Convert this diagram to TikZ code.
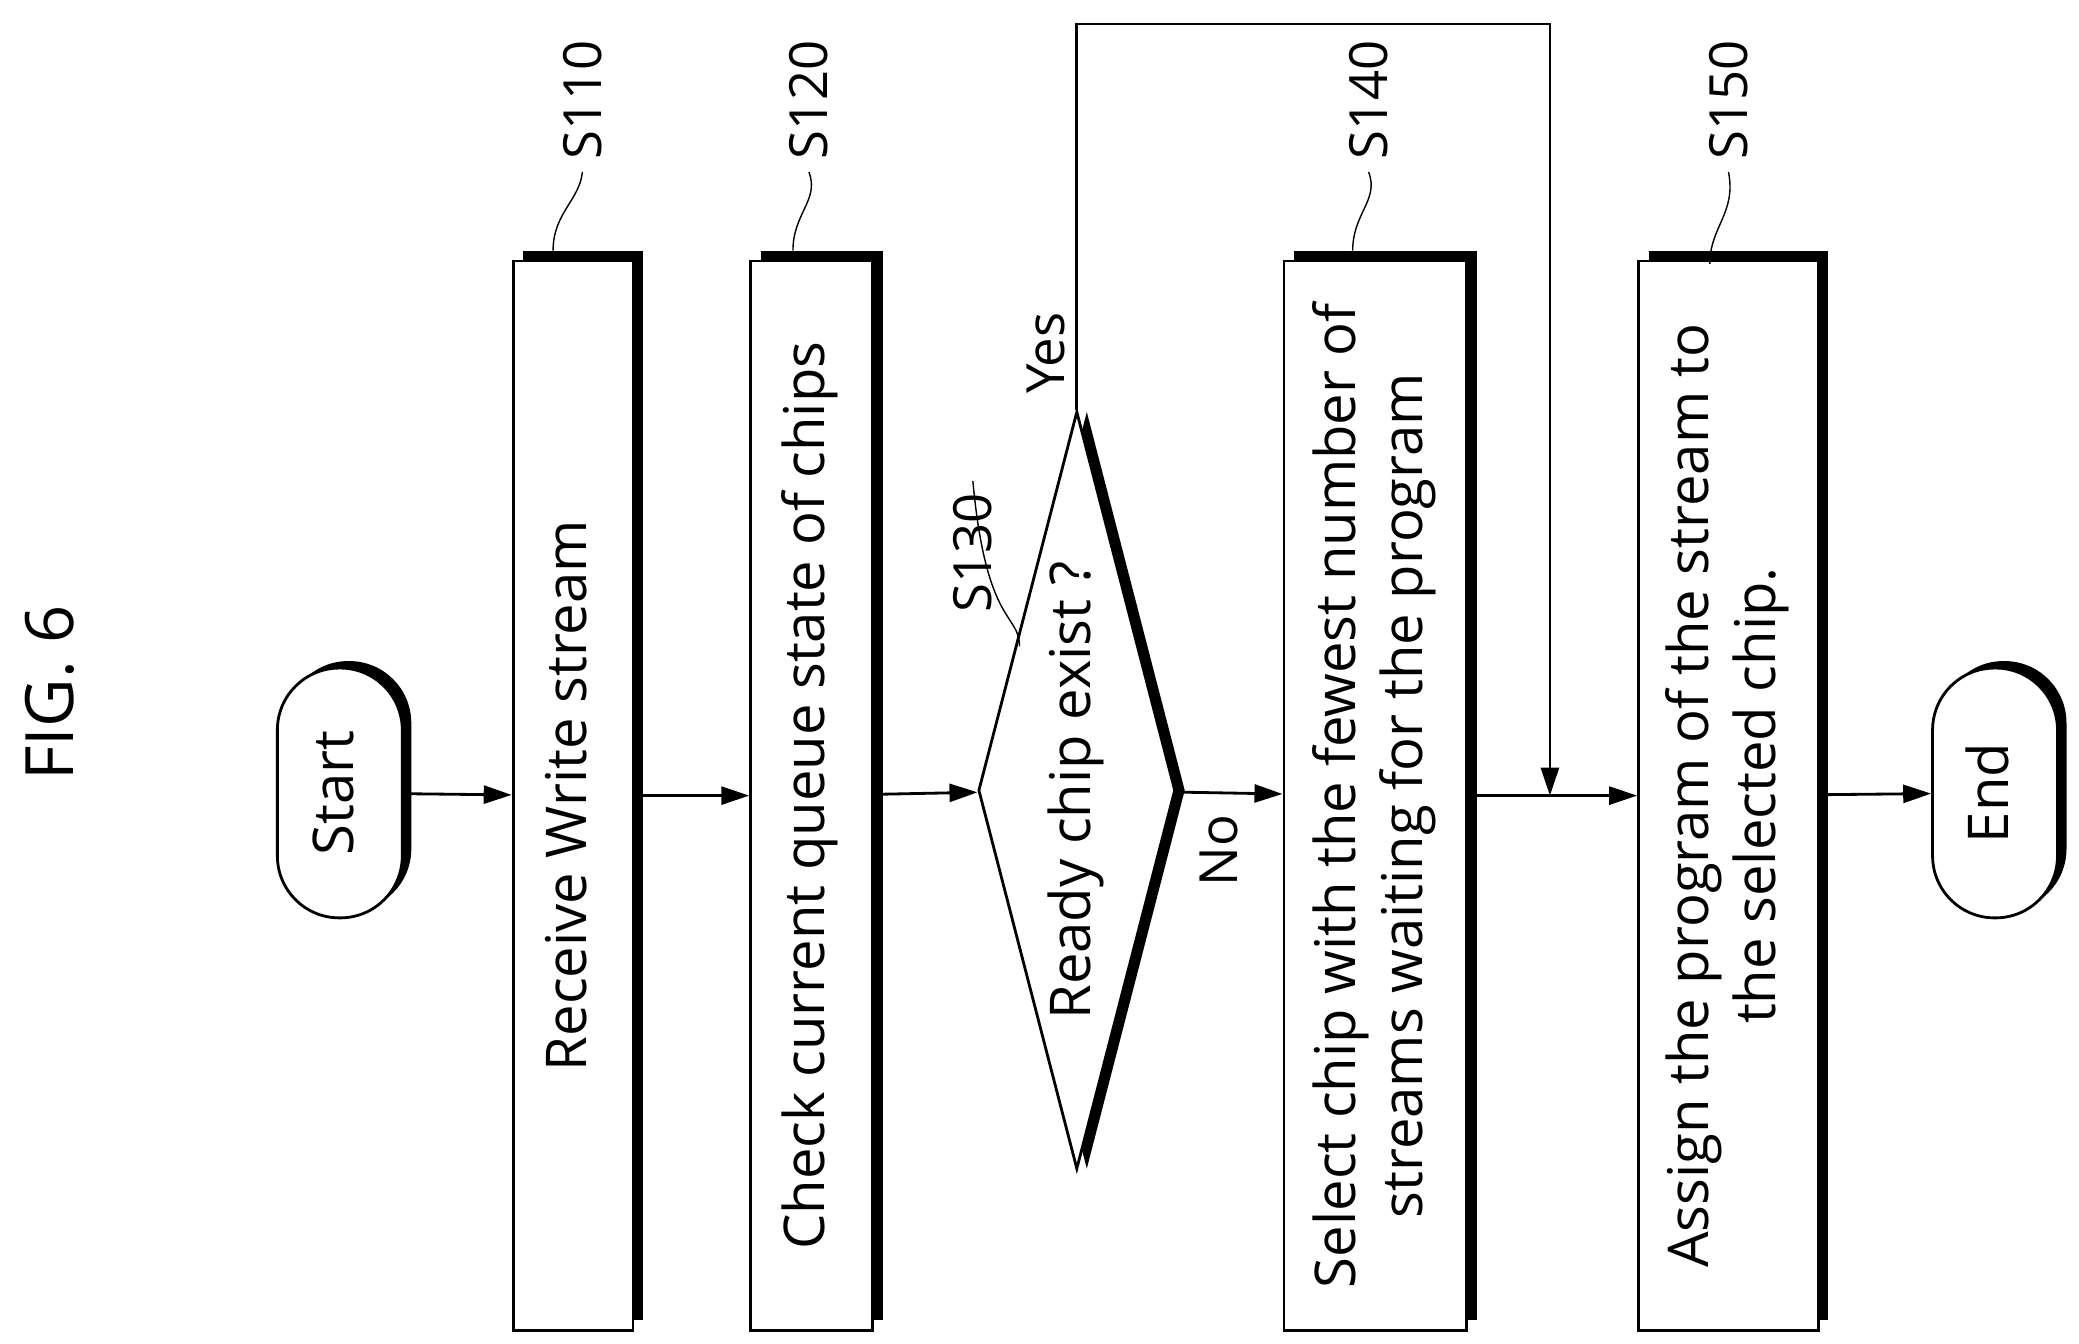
\documentclass[tikz,border=0pt]{standalone}
\usepackage{fontspec}
\setmainfont{Open Sans}
\usetikzlibrary{arrows.meta, shapes.geometric, shadows}
\tikzset{
	proc/.style={draw, fill=white, line width=0.8pt, minimum height=10.7cm, inner sep=0pt,
		drop shadow={shadow xshift=0.1cm, shadow yshift=0.1cm, fill=black, opacity=1}},
	term/.style={draw, fill=white, line width=0.8pt, rounded corners=0.62cm, minimum width=1.25cm, minimum height=2.5cm,
		drop shadow={shadow xshift=0.09cm, shadow yshift=0.07cm, fill=black, opacity=1}},
	flow/.style={-{Triangle[length=0.28cm, width=0.18cm]}, line width=0.8pt},
	lbl/.style={rotate=90, font=\fontsize{15}{17}\selectfont}
}
\newcommand{\vtext}[1]{\rotatebox{90}{\begin{tabular}{c}#1\end{tabular}}}
\begin{document}
\begin{tikzpicture}[x=0.01333cm, y=-0.01333cm, font=\fontsize{16}{19}\selectfont]
\useasboundingbox (0,0) rectangle (1560,1008);
\node[lbl, font=\fontsize{19}{21}\selectfont] (fig) at (37,520) {FIG. 6};
% steps
\node (start) [term] at (255,595) {\vtext{Start}};
\node (b110) [proc, minimum width=1.2cm] at (430,597) {\vtext{Receive Write stream}};
\node (b120) [proc, minimum width=1.22cm] at (609,597) {\vtext{Check current queue state of chips}};
\node (dec) [diamond, aspect=0.26, draw, fill=white, line width=0.8pt, inner sep=0pt, minimum width=1.84cm, minimum height=7.13cm,
	drop shadow={shadow xshift=0.1cm, shadow yshift=0cm, fill=black, opacity=1}] at (808,593) {\vtext{Ready chip exist ?}};
\node (b140) [proc, minimum width=1.83cm] at (1032,597) {\vtext{Select chip with the fewest number of\\streams waiting for the program}};
\node (b150) [proc, minimum width=1.8cm] at (1297,597) {\vtext{Assign the program of the stream to\\the selected chip.}};
\node (end) [term] at (1497,595) {\vtext{End}};
% connectors
\draw[flow] (start) -- (b110);
\draw[flow] (b110) -- (b120);
\draw[flow] (b120) -- (dec);
\draw[flow] (dec) -- (b140);
\draw[flow] (b140) -- (b150);
\draw[flow] (b150) -- (end);
\coordinate (join) at (1163,597);
\coordinate (loop) at (1163,18);
\draw[flow] (dec.north) |- (loop) -- (join);
\node[lbl] (yes) at (785,265) {Yes};
\node[lbl] (no) at (915,638) {No};
% step labels
\node[lbl] (l110) at (437,75) {S110};
\node[lbl] (l120) at (607,75) {S120};
\node[lbl] (l130) at (730,415) {S130};
\node[lbl] (l140) at (1027,75) {S140};
\node[lbl] (l150) at (1297,75) {S150};
\draw (415,188) .. controls (415,160) and (435,150) .. (l110.west);
\draw (595,188) .. controls (595,160) and (615,150) .. (l120.west);
\draw (765,485) .. controls (765,460) and (740,470) .. (l130.east);
\draw (1015,188) .. controls (1015,160) and (1035,150) .. (l140.west);
\draw (1283,198) .. controls (1283,170) and (1303,160) .. (l150.west);
\end{tikzpicture}
\end{document}
